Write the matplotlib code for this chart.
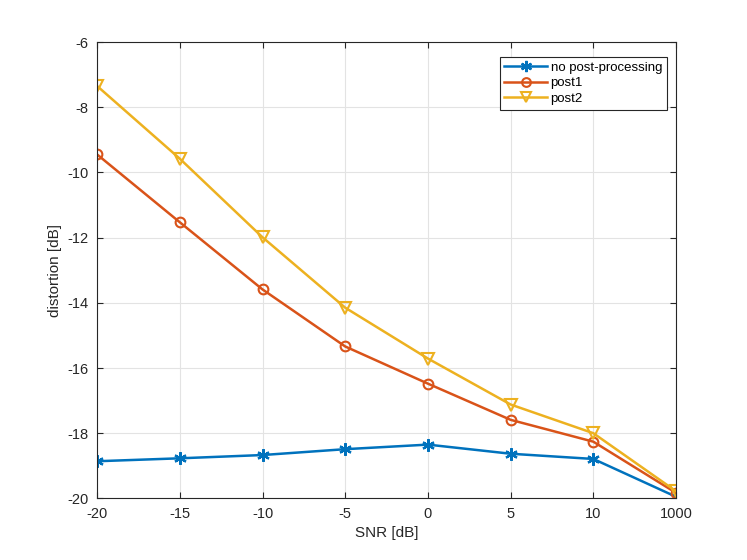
import matplotlib.pyplot as plt
import numpy as np

plt.rcParams['font.family'] = ['Liberation Sans', 'DejaVu Sans']
plt.rcParams['axes.unicode_minus'] = False

snr_labels = ['-20', '-15', '-10', '-5', '0', '5', '10', '1000']
no_post = [-18.86, -18.77, -18.67, -18.49, -18.35, -18.63, -18.79, -19.95]
post1 = [-9.45, -11.53, -13.59, -15.34, -16.48, -17.59, -18.26, -19.83]
post2 = [-7.35, -9.58, -11.99, -14.15, -15.71, -17.12, -18.0, -19.78]

x = np.arange(len(snr_labels))

fig = plt.figure(figsize=(7.47, 5.6), dpi=100)
ax = fig.add_axes([0.13, 0.11, 0.775, 0.815])

ax.plot(x, no_post, color='#0072BD', lw=1.8, marker=(6, 2, 0), ms=9, mew=1.6,
        label='no post-processing')
ax.plot(x, post1, color='#D95319', lw=1.8, marker='o', ms=7, mfc='none', mew=1.5,
        label='post1')
ax.plot(x, post2, color='#EDB120', lw=1.8, marker='v', ms=8, mfc='none', mew=1.5,
        label='post2')

ax.set_xlim(0, len(x) - 1)
ax.set_ylim(-20, -6)
ax.set_xticks(x)
ax.set_xticklabels(snr_labels)
ax.set_yticks(np.arange(-20, -5, 2))
ax.grid(True, color='#e3e3e3', lw=0.8)
ax.set_axisbelow(True)
for s in ax.spines.values():
    s.set_color('#262626')
    s.set_linewidth(0.8)
ax.tick_params(direction='in', length=4, labelsize=10.5, colors='#262626',
               top=True, right=True, pad=6)
ax.set_xlabel('SNR [dB]', fontsize=11, color='#262626')
ax.set_ylabel('distortion [dB]', fontsize=11, color='#262626')

leg = ax.legend(loc='upper right', bbox_to_anchor=(0.984, 0.967), fontsize=9.5,
                frameon=True, fancybox=False, framealpha=1, edgecolor='#262626',
                borderpad=0.35, labelspacing=0.25, handlelength=3.2, handletextpad=0.3,
                borderaxespad=0, markerscale=0.9)
leg.get_frame().set_linewidth(0.8)

fig.savefig('out.png', dpi=100)
